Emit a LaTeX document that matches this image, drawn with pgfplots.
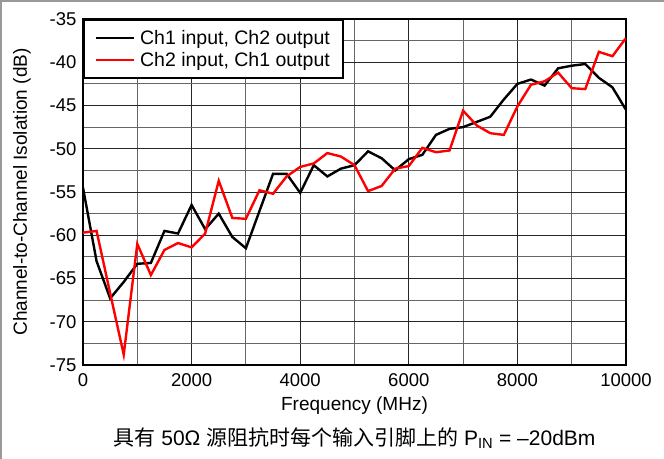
\documentclass[border=0pt]{standalone}
\usepackage{fontspec}
\setmainfont{Liberation Sans}
\newfontfamily\cjk{Noto Sans CJK SC}
\usepackage{pgfplots}
\pgfplotsset{compat=1.18}
\begin{document}
\begin{tikzpicture}
\useasboundingbox (-83bp,-94bp) rectangle (581bp,365bp);
\draw[gray!80, line width=2bp] (-83bp,364bp) -- (581bp,364bp);
\draw[gray!80, line width=1.5bp] (-82.2bp,-94bp) -- (-82.2bp,365bp);
\begin{axis}[
  at={(0bp,0bp)}, anchor=south west,
  scale only axis, width=543bp, height=346bp,
  xmin=0, xmax=10000, ymin=-75, ymax=-35,
  scaled x ticks=false,
  xtick={0,2000,4000,6000,8000,10000},
  xticklabels={0,2000,4000,6000,8000,10000},
  ytick={-75,-70,-65,-60,-55,-50,-45,-40,-35},
  yticklabels={-75,-70,-65,-60,-55,-50,-45,-40,-35},
  minor xtick={1000,3000,5000,7000,9000},
  minor ytick={-72.5,-67.5,-62.5,-57.5,-52.5,-47.5,-42.5,-37.5},
  grid=both,
  major grid style={black!85, line width=0.9bp},
  minor grid style={black!60, line width=0.9bp},
  major tick length=0pt, minor tick length=0pt,
  axis line style={black, line width=2.6bp},
  tick label style={font=\fontsize{18.5bp}{21bp}\selectfont},
  yticklabel style={xshift=-3bp},
  xticklabel style={yshift=-5bp},
  xlabel={Frequency (MHz)},
  ylabel={Channel-to-Channel Isolation (dB)},
  label style={font=\fontsize{19bp}{22bp}\selectfont},
  xlabel style={yshift=-3bp},
  ylabel style={yshift=12bp},
  legend style={at={(0,1)}, anchor=north west, draw=black, line width=2.2bp,
    font=\fontsize{19.5bp}{21bp}\selectfont, inner xsep=11bp, inner ysep=9bp,
    row sep=3bp, column sep=3bp,
    nodes={inner xsep=2bp, inner ysep=1.5bp}},
  legend cell align=left,
  legend image code/.code={\draw[#1, line width=2bp] (0bp,0bp) -- (38bp,0bp);},
]
\addplot[black, line width=2.4bp] coordinates {
(0,-54.5) (250,-63.0) (500,-67.3) (750,-65.4) (1000,-63.3) (1250,-63.2)
(1500,-59.5) (1750,-59.8) (2000,-56.5) (2250,-59.3) (2500,-57.5) (2750,-60.2)
(3000,-61.5) (3250,-57.2) (3500,-52.9) (3750,-52.9) (4000,-55.1) (4250,-51.9)
(4500,-53.2) (4750,-52.3) (5000,-51.9) (5250,-50.3) (5500,-51.1) (5750,-52.5)
(6000,-51.2) (6250,-50.7) (6500,-48.4) (6750,-47.7) (7000,-47.5) (7250,-46.9)
(7500,-46.3) (7750,-44.3) (8000,-42.5) (8250,-42.0) (8500,-42.7) (8750,-40.7)
(9000,-40.4) (9250,-40.2) (9500,-41.8) (9750,-42.9) (10000,-45.5)
};
\addlegendentry{Ch1 input, Ch2 output}
\addplot[red, line width=2.4bp] coordinates {
(0,-59.7) (250,-59.5) (500,-66.7) (750,-73.8) (1000,-61.0) (1250,-64.6)
(1500,-61.7) (1750,-60.9) (2000,-61.4) (2250,-59.8) (2500,-53.7) (2750,-58.0)
(3000,-58.1) (3250,-54.8) (3500,-55.2) (3750,-53.2) (4000,-52.1) (4250,-51.7)
(4500,-50.5) (4750,-50.9) (5000,-51.9) (5250,-54.9) (5500,-54.3) (5750,-52.3)
(6000,-52.0) (6250,-49.9) (6500,-50.4) (6750,-50.2) (7000,-45.6) (7250,-47.3)
(7500,-48.2) (7750,-48.4) (8000,-45.1) (8250,-42.6) (8500,-42.2) (8750,-41.2)
(9000,-43.0) (9250,-43.1) (9500,-38.8) (9750,-39.3) (10000,-37.2)
};
\addlegendentry{Ch2 input, Ch1 output}
\end{axis}
\node[font=\fontsize{21bp}{24bp}\selectfont, anchor=center] at (271.5bp,-73bp)
  {{\cjk 具有} 50Ω {\cjk 源阻抗时每个输入引脚上的} P\textsubscript{IN} = –20dBm};
\end{tikzpicture}
\end{document}
